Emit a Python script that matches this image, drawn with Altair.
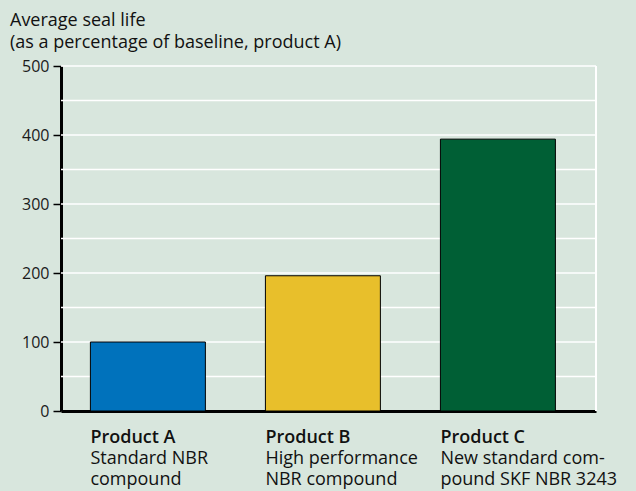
import altair as alt
import pandas as pd

products = ["Product A", "Product B", "Product C"]
descriptions = ["Standard NBR\ncompound", "High performance\nNBR compound", "New standard com-\npound SKF NBR 3243"]
values = [100, 196, 394]
colors = ["#0072bc", "#e8bf2b", "#005f35"]
grid_values = [50, 100, 150, 200, 250, 300, 350, 400, 450, 500]
tick_values = [0, 100, 200, 300, 400, 500]
title_text = "Average seal life\n(as a percentage of baseline, product A)"

FONT = "Open Sans"
df = pd.DataFrame({"product": products, "desc": descriptions, "value": values, "color": colors})
grid_df = pd.DataFrame({"g": grid_values})
title_df = pd.DataFrame({"t": [title_text]})

xscale = alt.Scale(domain=products, paddingInner=0.343, paddingOuter=0.2, align=0.42)
yscale = alt.Scale(domain=[0, 500], nice=False)
yaxis = alt.Axis(title=None, values=tick_values, grid=False,
                 domainColor="black", domainWidth=3, tickColor="black",
                 tickSize=8, tickWidth=1.5, labelFontSize=16, labelFont=FONT,
                 labelColor="#1a1a1a", labelPadding=4)

grid = alt.Chart(grid_df).mark_rule(color="white", strokeWidth=1.5).encode(
    y=alt.Y("g:Q", scale=yscale, axis=yaxis)
)
vline = alt.Chart(grid_df).mark_rule(color="white", strokeWidth=1.5).encode(
    x=alt.value(535), y=alt.value(0), y2=alt.value(345)
)

bars = alt.Chart(df).mark_bar(stroke="black", strokeWidth=1).encode(
    x=alt.X("product:N", scale=xscale, sort=products,
            axis=alt.Axis(title=None, labels=False, ticks=False, domain=True,
                          domainColor="black", domainWidth=3)),
    y=alt.Y("value:Q", scale=yscale, axis=yaxis),
    color=alt.Color("color:N", scale=None),
)

head = alt.Chart(df).mark_text(align="left", baseline="alphabetic", fontSize=18, fontWeight=600,
                               font=FONT, color="#111").encode(
    x=alt.X("product:N", scale=xscale, sort=products, bandPosition=0),
    y=alt.value(377),
    text="product:N",
)
desc = alt.Chart(df).mark_text(align="left", baseline="alphabetic", fontSize=18, font=FONT,
                               color="#111", lineBreak="\n", lineHeight=21).encode(
    x=alt.X("product:N", scale=xscale, sort=products, bandPosition=0),
    y=alt.value(398),
    text="desc:N",
)
title = alt.Chart(title_df).mark_text(align="left", baseline="alphabetic", fontSize=18, font=FONT,
                                      color="#111", lineBreak="\n", lineHeight=22).encode(
    x=alt.value(-51),
    y=alt.value(-40),
    text="t:N",
)

chart = alt.layer(grid, vline, bars, head, desc, title).properties(
    width=535, height=345,
    background="#d8e6dd",
    padding={"left": 61, "top": 66, "right": 40, "bottom": 80},
    autosize=alt.AutoSizeParams(type="none"),
).configure_view(stroke=None)

chart.save("out.html", embed_options={"renderer": "svg", "actions": False})
